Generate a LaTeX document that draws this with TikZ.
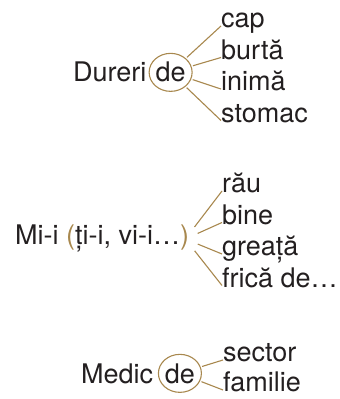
\documentclass[tikz,border=0pt]{standalone}
\usepackage{fontspec}
\setmainfont{TeX Gyre Heros}
\usepackage{xcolor}
\usepackage{tikz}
\usetikzlibrary{shapes.geometric, positioning}

\definecolor{ink}{HTML}{231F20}
\definecolor{gold}{HTML}{A8884E}

\tikzset{
    word/.style={inner sep=0pt, text=ink, font=\fontsize{27}{32}\selectfont},
    item/.style={word, anchor=base west},
    ring/.style={word, ellipse, draw=gold, line width=1.1pt, outer sep=2pt,
        minimum width=43pt, minimum height=38pt},
    hub/.style={ellipse, inner sep=0pt, outer sep=0pt,
        minimum width=26pt, minimum height=34pt},
    link/.style={draw=gold, line width=1.1pt}
}

\begin{document}
\begin{tikzpicture}[x=1pt, y=1pt]
    \useasboundingbox (0,0) rectangle (340,399);

    % Dureri de ...
    \node[item] (dureri) at (73,317) {Dureri};
    \node[ring, right=0.5pt of dureri] (de1) {de};
    \foreach \w [count=\i] in {cap, burtă, inimă, stomac} {
        \node[item] (a\i) at (221,371-31.5*\i+31.5) {\w};
        \draw[link] (de1) -- ([yshift=2pt]a\i.base west);
    }

    % Mi-i (ti-i, vi-i...)
    \node[item] (mii) at (15,154)
        {Mi-i \textcolor{gold}{(}ți-i, vi-i…\textcolor{gold}{)}};
    \node[hub] (hub) at ([xshift=-4pt]mii.east) {};
    \foreach \w [count=\i] in {rău, bine, greață, frică de…} {
        \node[item] (b\i) at (222,206-31.5*\i+31.5) {\w};
        \draw[link] (hub) -- ([yshift=2pt]b\i.base west);
    }

    % Medic de ...
    \node[item] (medic) at (81,16) {Medic};
    \node[ring, right=3pt of medic] (de2) {de};
    \foreach \w [count=\i] in {sector, familie} {
        \node[item] (c\i) at (223,37-30*\i+30) {\w};
        \draw[link] (de2) -- ([yshift=2pt]c\i.base west);
    }
\end{tikzpicture}
\end{document}
